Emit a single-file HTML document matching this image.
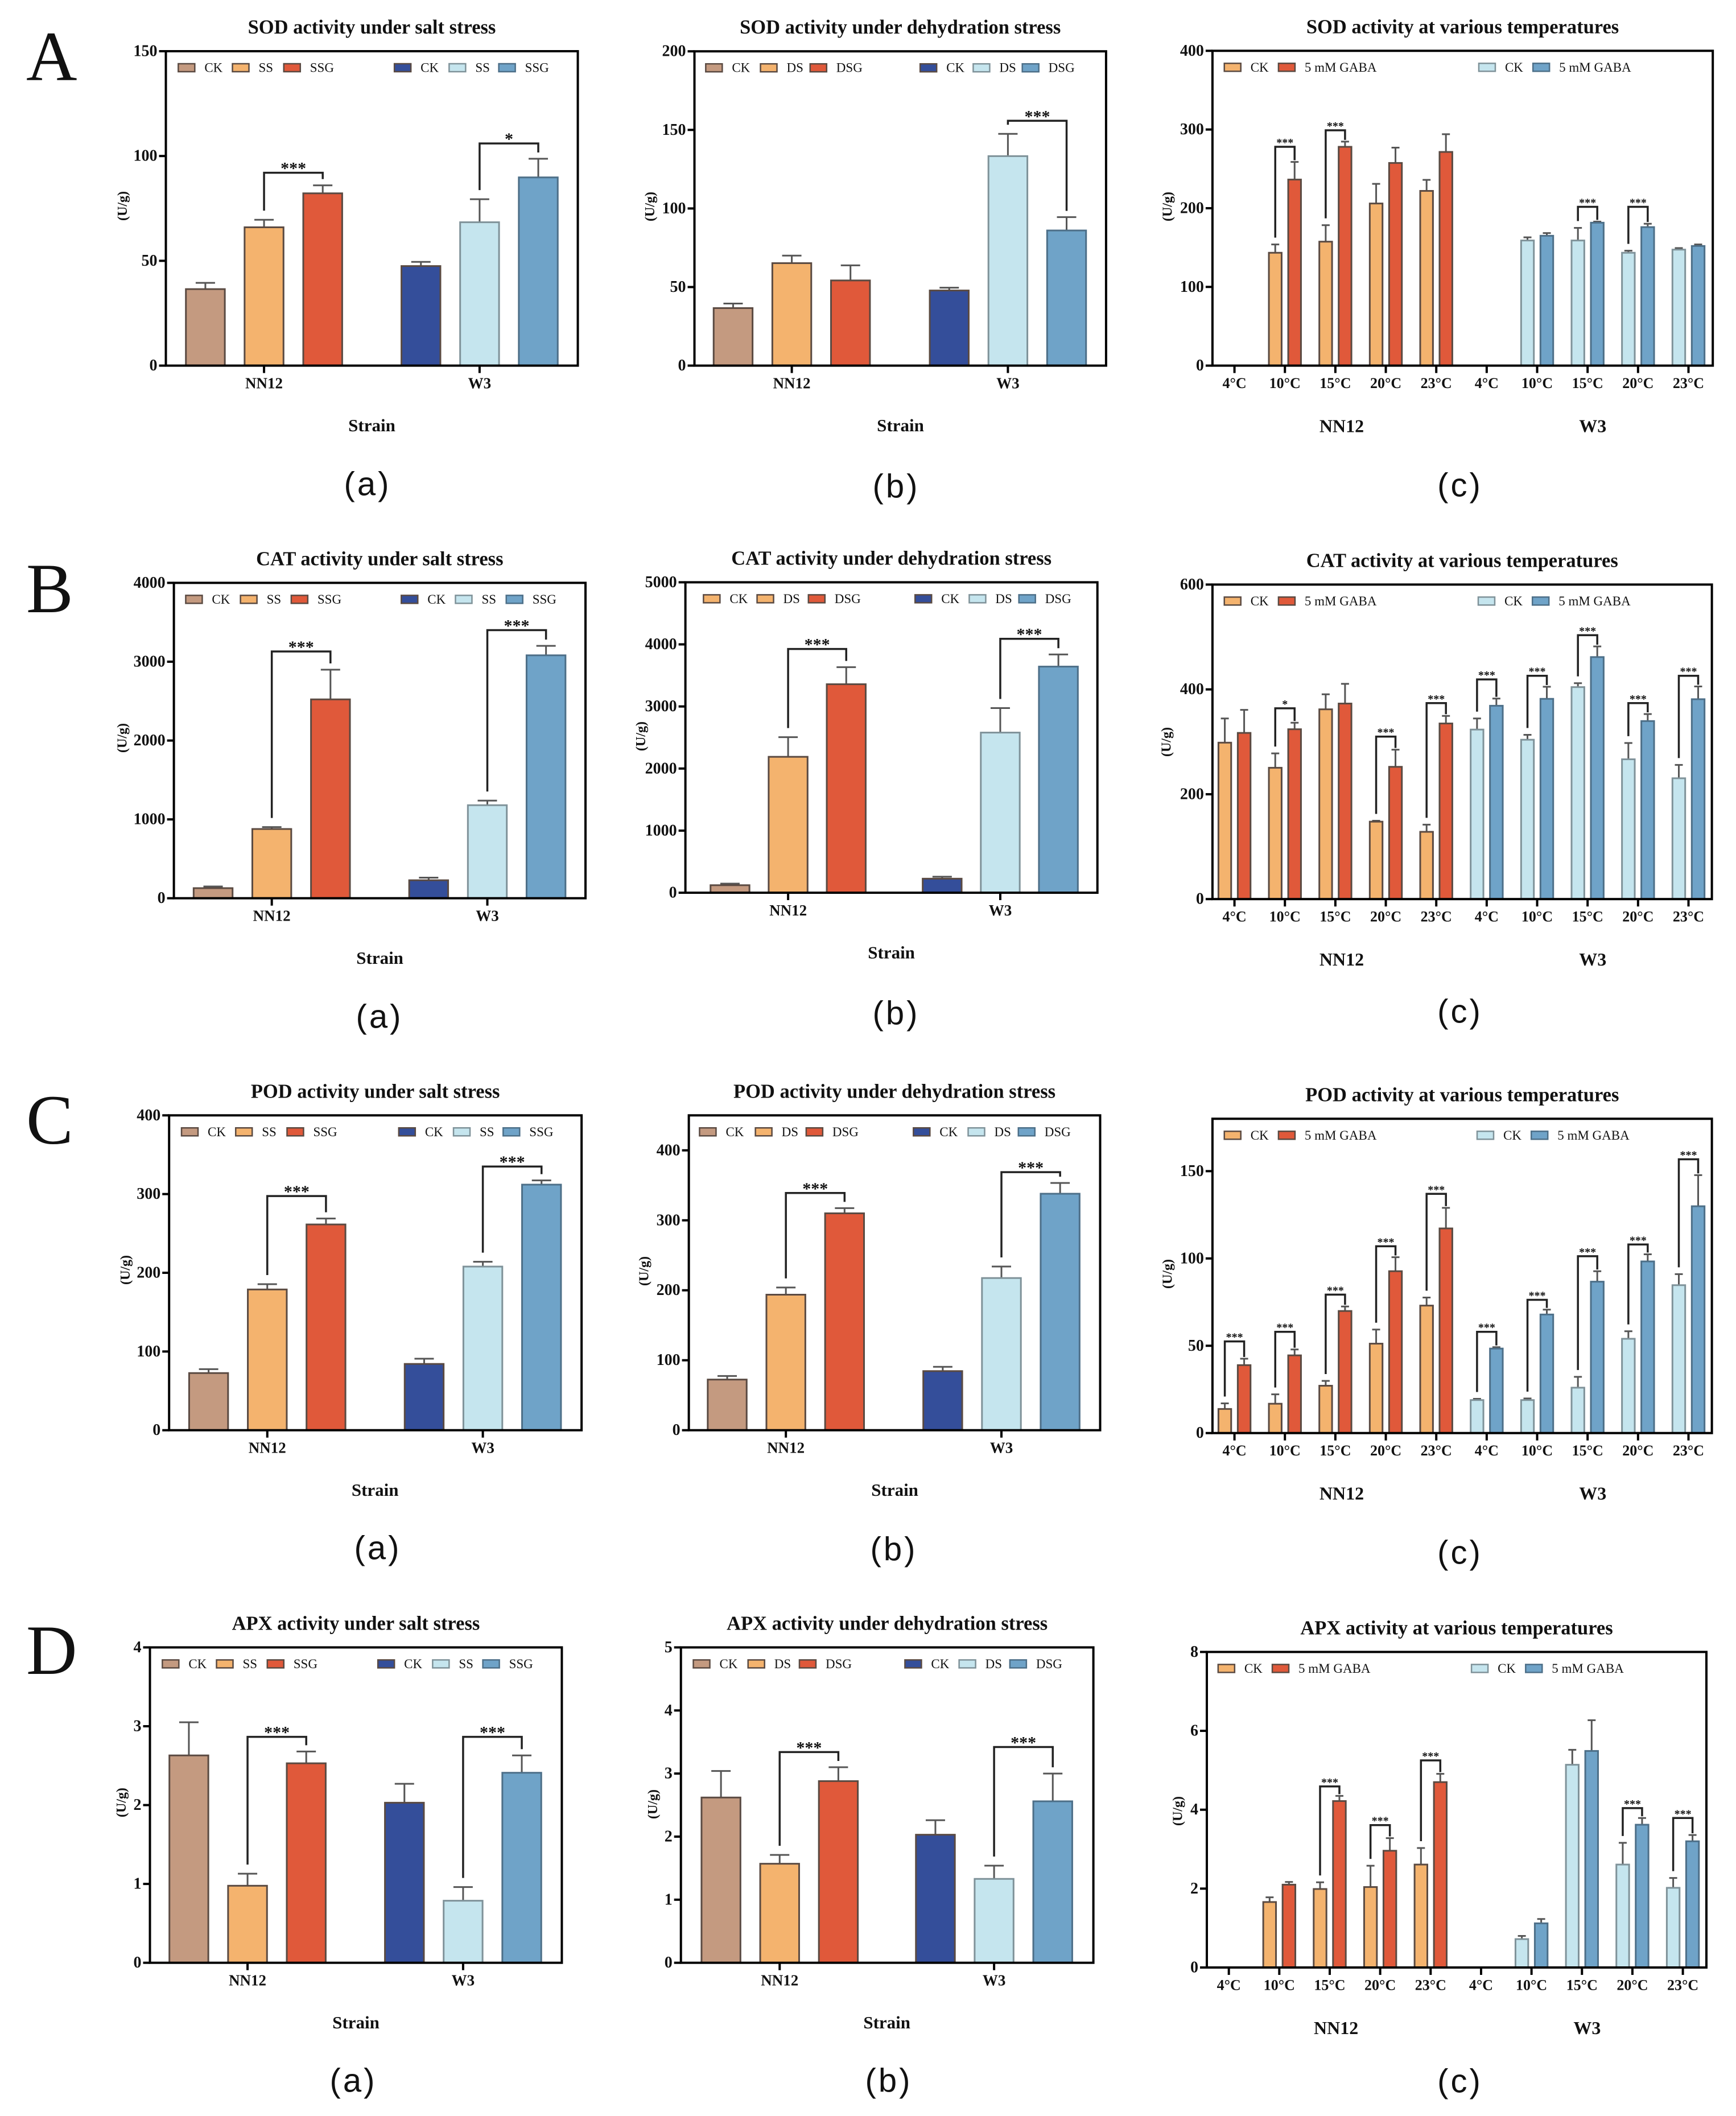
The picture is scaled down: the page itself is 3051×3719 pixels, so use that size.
<!DOCTYPE html>
<html lang="en">
<head>
<meta charset="utf-8">
<title>Antioxidant enzyme activity charts</title>
<style>
html,body{margin:0;padding:0;background:#fff}
svg{display:block}
text{font-family:"Liberation Serif",serif;fill:#111}
.sans{font-family:"Liberation Sans",sans-serif}
</style>
</head>
<body>
<svg id="figure" xmlns="http://www.w3.org/2000/svg" width="3051" height="3719" viewBox="0 0 3051 3719">
<rect x="0" y="0" width="3051" height="3719" fill="#fff"/>
<text x="46" y="141" font-size="124">A</text>
<text x="46" y="1076" font-size="124">B</text>
<text x="46" y="2010" font-size="124">C</text>
<text x="46" y="2942" font-size="124">D</text>
</svg>
<script>
// ---------- shared categories and labels ----------
const strainCategories = ['NN12', 'W3'];
const tempCategories = ['4°C', '10°C', '15°C', '20°C', '23°C', '4°C', '10°C', '15°C', '20°C', '23°C'];
const strainGroupLabels = ['NN12', 'W3'];
const saltLegend = ['CK', 'SS', 'SSG', 'CK', 'SS', 'SSG'];
const dehydrationLegend = ['CK', 'DS', 'DSG', 'CK', 'DS', 'DSG'];
const tempLegend = ['CK', '5 mM GABA', 'CK', '5 mM GABA'];

// ---------- SOD ----------
const sodSaltTicks = [0, 50, 100, 150];
const sodSaltMeans = [36.5, 66, 82.2, 47.5, 68.4, 89.8];
const sodSaltErrs = [3, 3.6, 3.8, 2, 11, 8.9];
const sodSaltSigGroups = [0, 1];
const sodSaltSigTops = [92, 106];
const sodSaltSigLabels = ['***', '*'];

const sodDehyTicks = [0, 50, 100, 150, 200];
const sodDehyMeans = [36.6, 65.2, 54.2, 47.8, 133.3, 86];
const sodDehyErrs = [2.9, 4.8, 9.6, 1.8, 14.2, 8.5];
const sodDehySigGroups = [1];
const sodDehySigTops = [155.8];
const sodDehySigLabels = ['***'];

const sodTempTicks = [0, 100, 200, 300, 400];
const sodTempCkMeans = [0, 143.4, 157.5, 206, 222, 0, 159, 159, 143.4, 147.4];
const sodTempCkErrs = [0, 10.6, 21, 25, 14, 0, 4, 16, 2.6, 2];
const sodTempGabaMeans = [0, 236.4, 278, 257.5, 271.5, 0, 165, 181.6, 176, 152];
const sodTempGabaErrs = [0, 22.4, 6.6, 19.5, 22.5, 0, 3.4, 1.4, 4.3, 2];
const sodTempSigCats = [1, 2, 7, 8];
const sodTempSigTops = [278, 299, 201.8, 201.8];
const sodTempSigLabels = ['***', '***', '***', '***'];

// ---------- CAT ----------
const catSaltTicks = [0, 1000, 2000, 3000, 4000];
const catSaltMeans = [128, 878, 2522, 228, 1180, 3081];
const catSaltErrs = [21, 25, 377, 33, 58, 120];
const catSaltSigGroups = [0, 1];
const catSaltSigTops = [3130, 3400];
const catSaltSigLabels = ['***', '***'];

const catDehyTicks = [0, 1000, 2000, 3000, 4000, 5000];
const catDehyMeans = [121, 2189, 3358, 226, 2579, 3642];
const catDehyErrs = [26, 316, 274, 32, 395, 195];
const catDehySigGroups = [0, 1];
const catDehySigTops = [3926, 4090];
const catDehySigLabels = ['***', '***'];

const catTempTicks = [0, 200, 400, 600];
const catTempCkMeans = [298.4, 250.5, 362, 147.7, 128.3, 323.4, 304, 404.4, 266.7, 230.5];
const catTempCkErrs = [46.2, 27.5, 28.7, 1.8, 13.7, 21.2, 9.4, 7.4, 31.1, 25.5];
const catTempGabaMeans = [317, 324, 373, 252.3, 335, 368.8, 382, 461.7, 339.6, 381.3];
const catTempGabaErrs = [44, 12.4, 37.6, 32.7, 14.5, 13.7, 23, 20.3, 13.4, 24.3];
const catTempSigCats = [1, 3, 4, 5, 6, 7, 8, 9];
const catTempSigTops = [363.9, 310, 373.8, 419, 426, 503.4, 373.8, 426];
const catTempSigLabels = ['*', '***', '***', '***', '***', '***', '***', '***'];

// ---------- POD ----------
const podSaltTicks = [0, 100, 200, 300, 400];
const podSaltMeans = [72.6, 178.8, 261.4, 84.2, 207.9, 312];
const podSaltErrs = [5, 6.7, 7.5, 6.7, 6.1, 5.4];
const podSaltSigGroups = [0, 1];
const podSaltSigTops = [297.5, 335];
const podSaltSigLabels = ['***', '***'];

const podDehyTicks = [0, 100, 200, 300, 400];
const podDehyMeans = [72.4, 193.7, 310, 84.5, 217.5, 338];
const podDehyErrs = [5.1, 10.3, 7.4, 6.1, 16.4, 15.4];
const podDehySigGroups = [0, 1];
const podDehySigTops = [339, 368.8];
const podDehySigLabels = ['***', '***'];

const podTempTicks = [0, 50, 100, 150];
const podTempCkMeans = [13.8, 16.8, 27.1, 51.2, 73, 18.9, 18.9, 26, 54, 84.7];
const podTempCkErrs = [3.2, 5.4, 2.8, 8.1, 4.6, 0.7, 0.9, 6.2, 4.3, 6.3];
const podTempGabaMeans = [38.9, 44.5, 69.9, 92.7, 117.2, 48.4, 67.9, 86.7, 98.3, 129.9];
const podTempGabaErrs = [3.7, 3.4, 2.6, 8, 11.8, 0.8, 2.8, 6, 4.1, 17.8];
const podTempSigCats = [0, 1, 2, 3, 4, 5, 6, 7, 8, 9];
const podTempSigTops = [52.5, 58, 79.3, 107, 137, 58, 76.3, 101.3, 108, 156.8];
const podTempSigLabels = ['***', '***', '***', '***', '***', '***', '***', '***', '***', '***'];

// ---------- APX ----------
const apxSaltTicks = [0, 1, 2, 3, 4];
const apxSaltMeans = [2.63, 0.977, 2.53, 2.03, 0.787, 2.41];
const apxSaltErrs = [0.42, 0.153, 0.15, 0.24, 0.173, 0.22];
const apxSaltSigGroups = [0, 1];
const apxSaltSigTops = [2.865, 2.865];
const apxSaltSigLabels = ['***', '***'];

const apxDehyTicks = [0, 1, 2, 3, 4, 5];
const apxDehyMeans = [2.62, 1.57, 2.88, 2.03, 1.33, 2.56];
const apxDehyErrs = [0.42, 0.14, 0.22, 0.23, 0.21, 0.44];
const apxDehySigGroups = [0, 1];
const apxDehySigTops = [3.34, 3.42];
const apxDehySigLabels = ['***', '***'];

const apxTempTicks = [0, 2, 4, 6, 8];
const apxTempCkMeans = [0, 1.66, 1.99, 2.04, 2.61, 0, 0.72, 5.14, 2.61, 2.02];
const apxTempCkErrs = [0, 0.12, 0.17, 0.54, 0.42, 0, 0.08, 0.38, 0.55, 0.25];
const apxTempGabaMeans = [0, 2.1, 4.22, 2.96, 4.7, 0, 1.12, 5.49, 3.62, 3.2];
const apxTempGabaErrs = [0, 0.07, 0.13, 0.32, 0.21, 0, 0.11, 0.78, 0.17, 0.16];
const apxTempSigCats = [2, 3, 4, 8, 9];
const apxTempSigTops = [4.59, 3.61, 5.25, 4.04, 3.79];
const apxTempSigLabels = ['***', '***', '***', '***', '***'];

// ---------- styling ----------
const C = {brown:'#C49A80', orange:'#F4B36E', red:'#E0593A', navy:'#344E9A', pale:'#C5E5EE', blue:'#6FA3C8'};
const stressColors = [C.brown, C.orange, C.red, C.navy, C.pale, C.blue];
const strokeOf = c => c === C.pale ? '#7f9299' : c === C.blue ? '#4d6f88' : '#5a4a42';
const K = 0.9917; // layout-offset scale

// ---------- chart registry (layout lives here, values above) ----------
const stressCharts = [
 {id:'sod-salt', title:'SOD activity under salt stress', sub:'(a)', ticks:sodSaltTicks, yMax:150, means:sodSaltMeans, errs:sodSaltErrs, sg:sodSaltSigGroups, st:sodSaltSigTops, sl:sodSaltSigLabels, legend:saltLegend,
  box:[291.5,1015.5,90,642.6], first:174, step:382, off:104, lx:[22,118,209,405,502,590], yt:[-76,362], subPos:[646,851]},
 {id:'sod-dehydration', title:'SOD activity under dehydration stress', sub:'(b)', ticks:sodDehyTicks, yMax:200, means:sodDehyMeans, errs:sodDehyErrs, sg:sodDehySigGroups, st:sodDehySigTops, sl:sodDehySigLabels, legend:dehydrationLegend,
  box:[1220.5,1943.9,90.2,642.6], first:172.5, step:383, off:104, lx:[20,117,205,400,494,581], yt:[-78,363], subPos:[1575,855]},
 {id:'cat-salt', title:'CAT activity under salt stress', sub:'(a)', ticks:catSaltTicks, yMax:4000, means:catSaltMeans, errs:catSaltErrs, sg:catSaltSigGroups, st:catSaltSigTops, sl:catSaltSigLabels, legend:saltLegend,
  box:[305.6,1029,1024.4,1578.7], first:173.5, step:382, off:104, lx:[21,118,208,403,499,589], yt:[-91,1297], subPos:[667,1787]},
 {id:'cat-dehydration', title:'CAT activity under dehydration stress', sub:'(b)', ticks:catDehyTicks, yMax:5000, means:catDehyMeans, errs:catDehyErrs, sg:catDehySigGroups, st:catDehySigTops, sl:catDehySigLabels, legend:dehydrationLegend, firstSwatch:C.orange,
  box:[1204.6,1928.7,1023.4,1569], first:182, step:376, off:103, lx:[32,127,218,407,503,591], yt:[-78,1294], subPos:[1575,1781]},
 {id:'pod-salt', title:'POD activity under salt stress', sub:'(a)', ticks:podSaltTicks, yMax:400, means:podSaltMeans, errs:podSaltErrs, sg:podSaltSigGroups, st:podSaltSigTops, sl:podSaltSigLabels, legend:saltLegend,
  box:[297.2,1022.1,1960.3,2513.7], first:174, step:382, off:104, lx:[22,118,209,407,504,592], yt:[-77,2232], subPos:[664,2721]},
 {id:'pod-dehydration', title:'POD activity under dehydration stress', sub:'(b)', ticks:podDehyTicks, yMax:450, means:podDehyMeans, errs:podDehyErrs, sg:podDehySigGroups, st:podDehySigTops, sl:podDehySigLabels, legend:dehydrationLegend,
  box:[1210.6,1933.5,1960.3,2513.7], first:172, step:382, off:104, lx:[19,118,208,398,495,584], yt:[-79,2234], subPos:[1571,2723]},
 {id:'apx-salt', title:'APX activity under salt stress', sub:'(a)', ticks:apxSaltTicks, yMax:4, means:apxSaltMeans, errs:apxSaltErrs, sg:apxSaltSigGroups, st:apxSaltSigTops, sl:apxSaltSigLabels, legend:saltLegend,
  box:[263.5,987.4,2895.4,3449.7], first:173, step:382, off:104, lx:[22,118,208,404,501,590], yt:[-50,3168], subPos:[621,3657]},
 {id:'apx-dehydration', title:'APX activity under dehydration stress', sub:'(b)', ticks:apxDehyTicks, yMax:5, means:apxDehyMeans, errs:apxDehyErrs, sg:apxDehySigGroups, st:apxDehySigTops, sl:apxDehySigLabels, legend:dehydrationLegend,
  box:[1196.7,1921.6,2895.4,3449.7], first:175, step:380, off:104, lx:[22,119,210,397,493,583], yt:[-49,3171], subPos:[1562,3657]}
];
const tempCharts = [
 {id:'sod-temperature', title:'SOD activity at various temperatures', ticks:sodTempTicks, yMax:400, ck:sodTempCkMeans, ckE:sodTempCkErrs, ga:sodTempGabaMeans, gaE:sodTempGabaErrs, sc:sodTempSigCats, st:sodTempSigTops, sl:sodTempSigLabels,
  box:[2130.9,3010.2,89.3,642.6], lx:[21,117,472,568], yt:[-79,363], subPos:[2566,853]},
 {id:'cat-temperature', title:'CAT activity at various temperatures', ticks:catTempTicks, yMax:600, ck:catTempCkMeans, ckE:catTempCkErrs, ga:catTempGabaMeans, gaE:catTempGabaErrs, sc:catTempSigCats, st:catTempSigTops, sl:catTempSigLabels,
  box:[2130.9,3008.6,1027.4,1580.2], lx:[21,117,471,567], yt:[-81,1304], subPos:[2566,1778]},
 {id:'pod-temperature', title:'POD activity at various temperatures', ticks:podTempTicks, yMax:180, ck:podTempCkMeans, ckE:podTempCkErrs, ga:podTempGabaMeans, gaE:podTempGabaErrs, sc:podTempSigCats, st:podTempSigTops, sl:podTempSigLabels,
  box:[2130.9,3008.6,1966.3,2518.7], lx:[21,117,469,565], yt:[-79,2239], subPos:[2566,2729]},
 {id:'apx-temperature', title:'APX activity at various temperatures', ticks:apxTempTicks, yMax:8, ck:apxTempCkMeans, ckE:apxTempCkErrs, ga:apxTempGabaMeans, gaE:apxTempGabaErrs, sc:apxTempSigCats, st:apxTempSigTops, sl:apxTempSigLabels,
  box:[2121,2999,2903.4,3458], lx:[20,116,469,565], yt:[-51,3183], subPos:[2566,3658]}
];

// ---------- drawing ----------
const NS = 'http://www.w3.org/2000/svg';
const root = document.getElementById('figure');
function make(parent, tag, attrs, txt) {
  const n = document.createElementNS(NS, tag);
  for (const k in attrs) n.setAttribute(k, attrs[k]);
  if (txt !== undefined) n.textContent = txt;
  parent.appendChild(n);
  return n;
}

function drawBar(g, x, w, yFn, mean, err, color, capW) {
  if (!(mean > 0)) return;
  const yb = yFn(0), yt = yFn(mean), ye = yFn(mean + err);
  let el = make(g, 'path', {d:`M${x} ${yt}V${ye}M${x - capW / 2} ${ye}H${x + capW / 2}`, fill:'none', stroke:'#555', 'stroke-width':3});
  
  
  el = make(g, 'rect', {x:x - w / 2, y:yt, width:w, height:yb - yt, fill:color, stroke:strokeOf(color), 'stroke-width':3});
  
  
}

function drawBracket(g, xa, xb, yFn, topA, topB, level, label, gapA, gapB, starSize, starShift) {
  const yl = yFn(level);
  let el = make(g, 'path', {d:`M${xa} ${yFn(topA) - gapA}V${yl}H${xb}V${yFn(topB) - gapB}`, fill:'none', stroke:'#222', 'stroke-width':3.5});
  
  
  el = make(g, 'text', {x:(xa + xb) / 2, y:yl + starShift, 'text-anchor':'middle', 'font-size':starSize, 'font-weight':'bold'}, label);
  
  
}

function drawFrame(g, c, yFn, catXs, catLabels, catSize) {
  const [l, r, t, b] = c.box;
  let el = make(g, 'text', {x:(l + r) / 2, y:t - 42, 'text-anchor':'middle', 'dominant-baseline':'central', 'font-size':34.5, 'font-weight':'bold'}, c.title);
  
  
  c.ticks.forEach(v => {
    let tk = make(g, 'line', {x1:l - 12, x2:l, y1:yFn(v), y2:yFn(v), stroke:'#000', 'stroke-width':4});
    
    
    tk = make(g, 'text', {x:l - 15, y:yFn(v), 'text-anchor':'end', 'dominant-baseline':'central', 'font-size':28, 'font-weight':'bold'}, String(v));
    
    
  });
  catXs.forEach((x, i) => {
    let tk = make(g, 'line', {x1:x, x2:x, y1:b, y2:b + 13, stroke:'#000', 'stroke-width':4});
    
    
    tk = make(g, 'text', {x:x, y:b + 31, 'text-anchor':'middle', 'dominant-baseline':'central', 'font-size':catSize, 'font-weight':'bold'}, catLabels[i]);
    
    
  });
  el = make(g, 'rect', {x:l, y:t, width:r - l, height:b - t, fill:'none', stroke:'#000', 'stroke-width':4});
  
  
  const ytx = l + c.yt[0] * K;
  el = make(g, 'text', {x:ytx, y:c.yt[1], 'text-anchor':'middle', 'dominant-baseline':'central', 'font-size':24, 'font-weight':'bold', transform:`rotate(-90 ${ytx} ${c.yt[1]})`}, '(U/g)');
  
  
}

function drawLegend(g, c, labels, colors) {
  const [l, , t] = c.box;
  labels.forEach((name, i) => {
    const x = l + c.lx[i] * K;
    let el = make(g, 'rect', {x:x, y:t + 22, width:29, height:14, fill:colors[i], stroke:strokeOf(colors[i]), 'stroke-width':2.5});
    
    
    el = make(g, 'text', {x:x + 46, y:t + 29, 'dominant-baseline':'central', 'font-size':23}, name);
    
    
  });
}

function drawSub(g, c) {
  const el = make(g, 'text', {x:c.subPos[0], y:c.subPos[1], 'text-anchor':'middle', 'dominant-baseline':'central', 'font-size':58, 'letter-spacing':4, 'class':'sans', fill:'#222'}, c.sub || '(c)');
  
  
}

function drawStress(c) {
  const g = make(root, 'g', {});
  
  
  const [l, , t, b] = c.box;
  const yFn = v => b - (v / c.yMax) * (b - t);
  const catX = i => l + (c.first + i * c.step) * K;
  const barX = i => catX(Math.floor(i / 3)) + ((i % 3) - 1) * c.off * K;
  c.means.forEach((m, i) => drawBar(g, barX(i), 68.4, yFn, m, c.errs[i], stressColors[i], 34));
  c.sg.forEach((grp, k) => {
    const a = grp * 3 + 1, z = grp * 3 + 2;
    drawBracket(g, barX(a), barX(z), yFn, c.means[a] + c.errs[a], c.means[z] + c.errs[z], c.st[k], c.sl[k], 16, 11, 30, 2);
  });
  drawFrame(g, c, yFn, strainCategories.map((_, i) => catX(i)), strainCategories, 27);
  const colors = stressColors.slice();
  if (c.firstSwatch) colors[0] = c.firstSwatch;
  drawLegend(g, c, c.legend, colors);
  const el = make(g, 'text', {x:l + 362, y:b + 105, 'text-anchor':'middle', 'dominant-baseline':'central', 'font-size':31, 'font-weight':'bold'}, 'Strain');
  
  
  drawSub(g, c);
}

function drawTemp(c) {
  const g = make(root, 'g', {});
  
  
  const [l, , t, b] = c.box;
  const yFn = v => b - (v / c.yMax) * (b - t);
  const catX = i => l + (39 + i * 89.4) * K;
  const ckCol = i => i < 5 ? C.orange : C.pale;
  const gaCol = i => i < 5 ? C.red : C.blue;
  tempCategories.forEach((_, i) => {
    drawBar(g, catX(i) - 17, 22.4, yFn, c.ck[i], c.ckE[i], ckCol(i), 14);
    drawBar(g, catX(i) + 17, 22.4, yFn, c.ga[i], c.gaE[i], gaCol(i), 14);
  });
  c.sc.forEach((i, k) => {
    drawBracket(g, catX(i) - 17, catX(i) + 17, yFn, c.ck[i] + c.ckE[i], c.ga[i] + c.gaE[i], c.st[k], c.sl[k], 12, 3, 20, -1);
  });
  drawFrame(g, c, yFn, tempCategories.map((_, i) => catX(i)), tempCategories, 26);
  drawLegend(g, c, tempLegend, [C.orange, C.red, C.pale, C.blue]);
  strainGroupLabels.forEach((name, i) => {
    const el = make(g, 'text', {x:l + (229 + i * 445) * K, y:b + 106, 'text-anchor':'middle', 'dominant-baseline':'central', 'font-size':32, 'font-weight':'bold'}, name);
    
    
  });
  drawSub(g, c);
}

stressCharts.forEach(drawStress);
tempCharts.forEach(drawTemp);
</script>
</body>
</html>
